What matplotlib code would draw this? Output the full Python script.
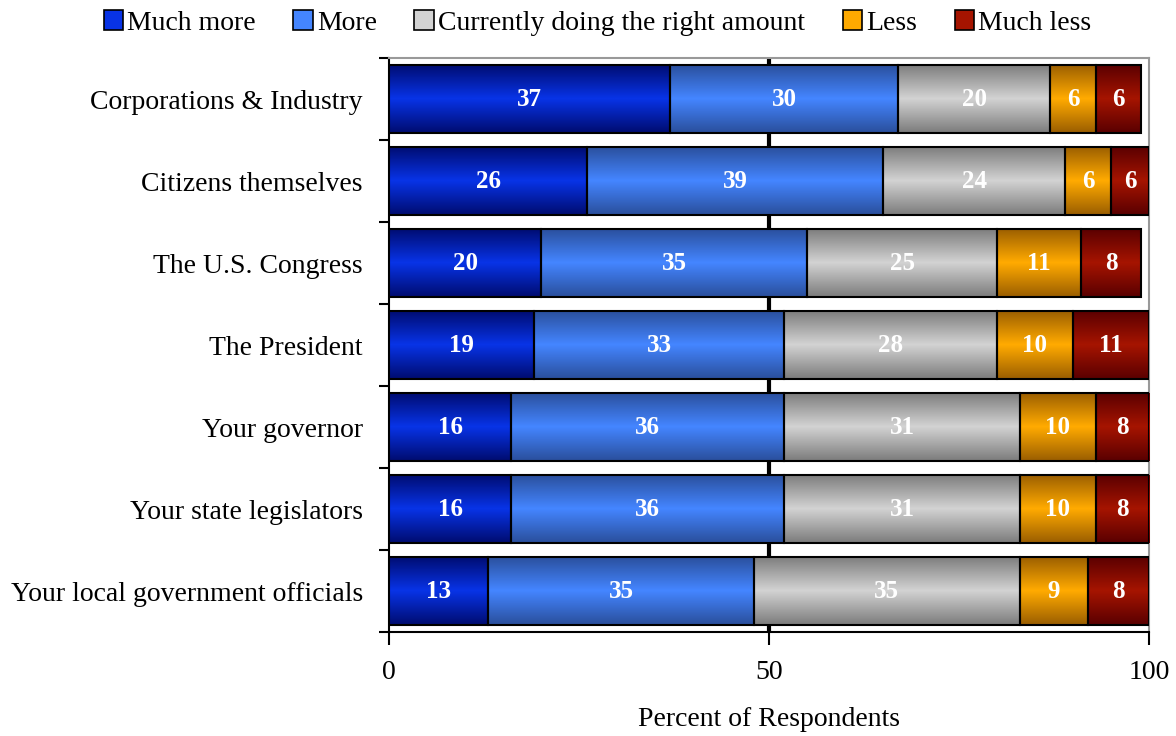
import numpy as np
import matplotlib
matplotlib.use('Agg')
import matplotlib.pyplot as plt
from matplotlib.colors import LinearSegmentedColormap
from matplotlib.patches import Patch

plt.rcParams['font.family'] = ['Liberation Serif', 'DejaVu Serif']

categories = ['Corporations & Industry', 'Citizens themselves', 'The U.S. Congress',
              'The President', 'Your governor', 'Your state legislators',
              'Your local government officials']
series = ['Much more', 'More', 'Currently doing the right amount', 'Less', 'Much less']
much_more = [37, 26, 20, 19, 16, 16, 13]
more = [30, 39, 35, 33, 36, 36, 35]
right_amount = [20, 24, 25, 28, 31, 31, 35]
less = [6, 6, 11, 10, 10, 10, 9]
much_less = [6, 6, 8, 11, 8, 8, 8]
values = [much_more, more, right_amount, less, much_less]

# (edge colour, middle colour) for the vertical gradient
shades = [('#000c70', '#0833e6'), ('#2a4f9c', '#4485ff'), ('#7c7c7c', '#d2d2d2'),
          ('#9a5e00', '#ffaa00'), ('#5a0000', '#a51400')]

fig = plt.figure(figsize=(11.76, 7.36), dpi=100)
ax = fig.add_axes([0.331, 0.141, 0.646, 0.780])

y = np.arange(len(categories))[::-1]
left = np.zeros(len(categories))
grad = np.concatenate([np.linspace(0, 1, 50), np.linspace(1, 0, 50)]).reshape(-1, 1)

for vals, (edge, mid), name in zip(values, shades, series):
    cmap = LinearSegmentedColormap.from_list(name, [edge, mid])
    vals = np.array(vals)
    # the bars run off the 100 mark a little; cut them at the axis edge
    widths = np.minimum(left + vals, 100) - left
    bars = ax.barh(y, widths, left=left, height=0.83, facecolor='none', edgecolor='black',
                   linewidth=1.5, zorder=4)
    for bar, v in zip(bars, vals):
        x0, y0 = bar.get_x(), bar.get_y()
        w, h = bar.get_width(), bar.get_height()
        im = ax.imshow(grad, cmap=cmap, aspect='auto', zorder=3.5,
                       extent=[x0, x0 + w, y0, y0 + h])
        im.set_clip_path(bar)
        ax.text(x0 + w / 2, y0 + h / 2, str(v), color='white', fontsize=18,
                fontweight='bold', ha='center', va='center', zorder=5)
    left = left + vals

ax.axvline(50, color='black', linewidth=3, zorder=1)
ax.set_xlim(0, 100)
ax.set_ylim(-0.5, len(categories) - 0.5)
ax.set_xticks([0, 50, 100])
ax.set_xticklabels(['0', '50', '100'], fontsize=20)
ax.tick_params(axis='x', direction='out', length=9, width=1.5, pad=11)
ax.set_yticks(y)
ax.set_yticklabels(categories, fontsize=20)
ax.set_yticks(np.arange(-0.5, len(categories)), minor=True)
ax.tick_params(axis='y', which='major', length=0, pad=19)
ax.tick_params(axis='y', which='minor', direction='out', length=7, width=1.5)
ax.set_xlabel('Percent of Respondents', fontsize=20, labelpad=16)

ax.spines['left'].set_linewidth(1.5)
ax.spines['bottom'].set_linewidth(1.5)
for s in ['top', 'right']:
    ax.spines[s].set_color('#999999')
    ax.spines[s].set_linewidth(1.5)

handles = [Patch(facecolor=mid, edgecolor='black', linewidth=1.2) for _, mid in shades]
fig.legend(handles, series, loc='upper center', bbox_to_anchor=(0.508, 1.02), ncol=5,
           frameon=False, fontsize=20, handlelength=0.7, handleheight=0.7,
           handletextpad=0.15, columnspacing=1.35)

fig.savefig('out.png', dpi=100)
